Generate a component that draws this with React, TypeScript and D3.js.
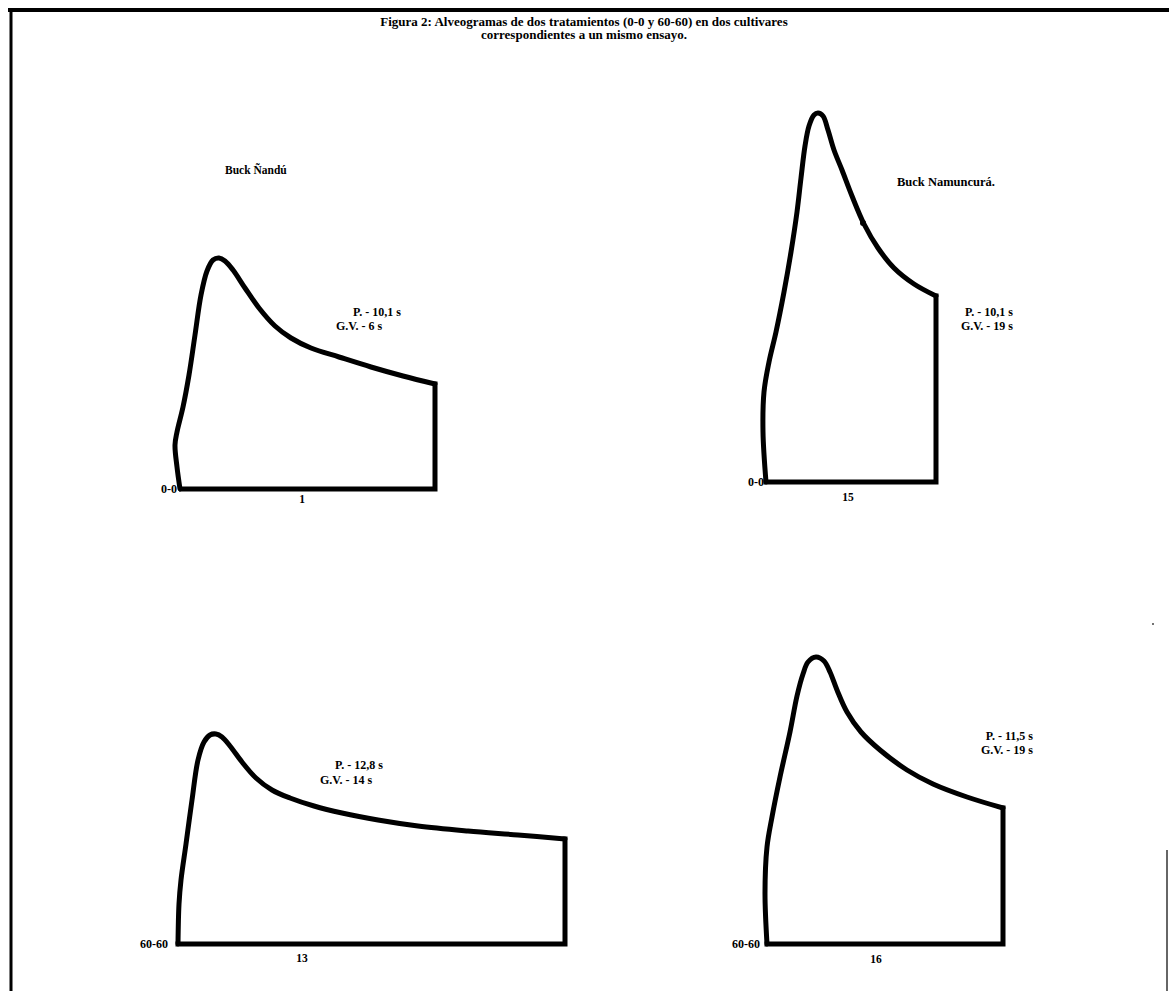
import React from "react";
import * as d3 from "d3";

// ---- data (L, P in curve units) ----
const curve1: [number, number][] = [
  [0.5, 0], [-1, 11], [-2, 22], [-1, 28.5], [2, 41], [5, 57], [8, 77], [11, 97], [14, 109],
  [17, 114.5], [20, 115.5], [23, 114], [27, 109.5], [33, 100.5], [40, 90.5], [48, 81.5],
  [56, 75.5], [66, 70.5], [80, 66], [96, 61], [112, 56.5], [128, 52.5],
];
const curve15: [number, number][] = [
  [0, 0], [-1.5, 25], [-1, 45], [1.5, 60], [5, 75], [9, 95], [12.5, 115], [15.5, 135],
  [17.5, 152], [19.5, 168], [21.5, 178], [24, 183.5], [26, 184.5], [28.5, 183], [31, 176],
  [34, 166], [38, 156], [43, 143], [49, 129], [56, 117], [64, 107], [74, 99], [85, 93],
];
const curve13: [number, number][] = [
  [0, 0], [0.5, 20], [1.5, 32], [4, 50], [7, 72], [10, 92], [13, 101], [16, 104.5], [19, 105],
  [22, 103.5], [26, 99], [32, 91], [39, 83], [47, 77], [56, 73], [68, 69], [82, 65.5],
  [100, 62], [120, 59], [145, 56.5], [170, 54.5], [193.5, 52.5],
];
const curve16: [number, number][] = [
  [0, 0], [-1, 25.5], [0, 48.5], [2.5, 63.5], [6.5, 83.5], [11.5, 106], [15, 124], [18, 135],
  [20.5, 141], [24.5, 143.5], [28.5, 141.5], [31.5, 136], [35, 127], [40, 116], [47, 106],
  [56.5, 97], [70, 87], [83, 80], [100, 73.5], [118, 68],
];

const sampleIds = ["1", "15", "13", "16"];
const treatments = ["0-0", "0-0", "60-60", "60-60"];
const pValues = ["P. - 10,1 s", "P. - 10,1 s", "P. - 12,8 s", "P. - 11,5 s"];
const gvValues = ["G.V. - 6 s", "G.V. - 19 s", "G.V. - 14 s", "G.V. - 19 s"];
const cultivars = ["Buck Ñandú", "Buck Namuncurá."];
const titleLines = [
  "Figura 2: Alveogramas de dos tratamientos (0-0 y 60-60) en dos cultivares",
  "correspondientes a un mismo ensayo.",
];

// ---- layout ----
const W = 1169;
const H = 991;
const UNIT = 2; // px per curve unit
const panels = [
  { data: curve1, ox: 179, base: 489, tEnd: 177, idX: 302, idDy: 14, anchor: "start", pX: 353, pY: 316, gX: 336, gY: 330 },
  { data: curve15, ox: 766, base: 482, tEnd: 764, idX: 848, idDy: 19, anchor: "end", pX: 1013, pY: 316, gX: 1013, gY: 330 },
  { data: curve13, ox: 178, base: 944, tEnd: 168, idX: 302, idDy: 18, anchor: "start", pX: 335, pY: 769, gX: 320, gY: 784 },
  { data: curve16, ox: 767, base: 944, tEnd: 760, idX: 876, idDy: 19, anchor: "end", pX: 1033, pY: 740, gX: 1033, gY: 754 },
];

const FONT = "'Liberation Serif', 'Times New Roman', serif";

function Panel({ idx }: { idx: number }) {
  const p = panels[idx];
  const x = d3.scaleLinear().domain([0, 100]).range([p.ox, p.ox + 100 * UNIT]);
  const y = d3.scaleLinear().domain([0, 100]).range([p.base, p.base - 100 * UNIT]);
  const pts = p.data;
  const last = pts[pts.length - 1];
  const curvePath = d3
    .line<[number, number]>()
    .x((d) => x(d[0]))
    .y((d) => y(d[1]))
    .curve(d3.curveCatmullRom.alpha(0.5))(pts) as string;
  const closePath = d3
    .line<[number, number]>()
    .x((d) => x(d[0]))
    .y((d) => y(d[1]))([last, [last[0], 0], [Math.min(0, pts[0][0]), 0], pts[0]]) as string;
  return (
    <g>
      <path d={curvePath} fill="none" stroke="#000" strokeWidth={5} strokeLinejoin="round" strokeLinecap="round" />
      <path d={closePath} fill="none" stroke="#000" strokeWidth={5} strokeLinejoin="miter" strokeLinecap="square" />
      <text x={p.tEnd} y={y(0) + 4} textAnchor="end" fontFamily={FONT} fontWeight="bold" fontSize={12}>
        {treatments[idx]}
      </text>
      <text x={p.idX} y={y(0) + p.idDy} textAnchor="middle" fontFamily={FONT} fontWeight="bold" fontSize={11.5}>
        {sampleIds[idx]}
      </text>
      <text x={p.pX} y={p.pY} textAnchor={p.anchor} fontFamily={FONT} fontWeight="bold" fontSize={12}>
        {pValues[idx]}
      </text>
      <text x={p.gX} y={p.gY} textAnchor={p.anchor} fontFamily={FONT} fontWeight="bold" fontSize={12}>
        {gvValues[idx]}
      </text>
    </g>
  );
}

export default function App() {
  return (
    <div style={{ position: "absolute", left: 0, top: 0, width: W, height: H, background: "#fff" }}>
      <svg width={W} height={H} style={{ display: "block" }}>
        <rect width={W} height={H} fill="#fff" />
        {/* frame */}
        <line x1={8} y1={10} x2={W} y2={10} stroke="#000" strokeWidth={4} />
        <line x1={11} y1={8} x2={11} y2={H} stroke="#000" strokeWidth={3} />
        <line x1={1167} y1={850} x2={1167} y2={H} stroke="#333" strokeWidth={1.5} />
        <circle cx={1153} cy={624} r={1} fill="#444" />
        {/* title */}
        {titleLines.map((t, i) => (
          <text key={i} x={584} y={26 + i * 13} textAnchor="middle" fontFamily={FONT} fontWeight="bold" fontSize={13}>
            {t}
          </text>
        ))}
        <text x={225} y={174} fontFamily={FONT} fontWeight="bold" fontSize={11.5}>
          {cultivars[0]}
        </text>
        <text x={897} y={186} fontFamily={FONT} fontWeight="bold" fontSize={12.5}>
          {cultivars[1]}
        </text>
        {panels.map((_, i) => (
          <Panel key={i} idx={i} />
        ))}
        <circle cx={863} cy={223} r={3} fill="#000" />
      </svg>
    </div>
  );
}
